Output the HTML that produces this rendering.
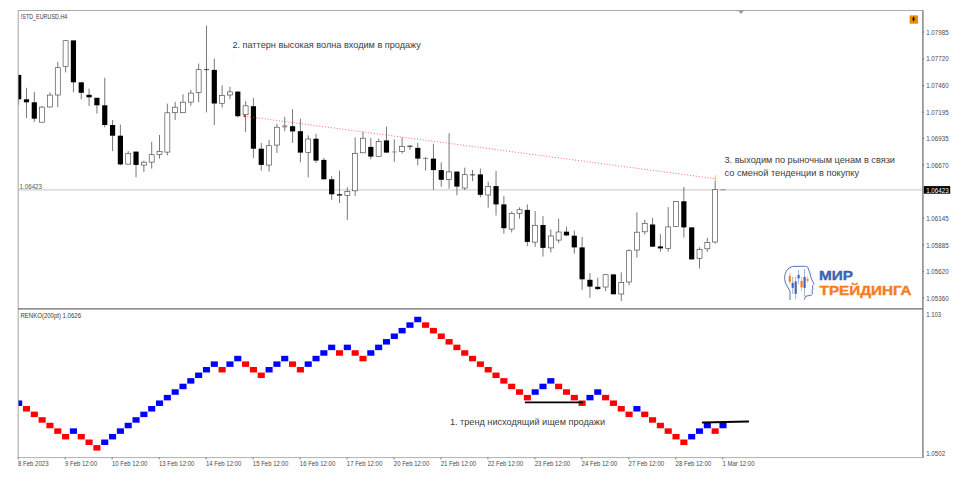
<!DOCTYPE html>
<html><head><meta charset="utf-8"><title>chart</title>
<style>html,body{margin:0;padding:0;background:#fff;font-family:"Liberation Sans",sans-serif;}body{width:962px;height:482px;overflow:hidden}</style>
</head><body>
<svg width="962" height="482" viewBox="0 0 962 482" style="display:block">
<rect width="962" height="482" fill="#fff"/>
<defs><clipPath id="cl"><rect x="18.2" y="10" width="905" height="448"/></clipPath></defs>
<line x1="18" y1="189.8" x2="922.6" y2="189.8" stroke="#dedede" stroke-width="1.7"/>
<g clip-path="url(#cl)">
<line x1="18.65" y1="74.9" x2="18.65" y2="104.8" stroke="#555" stroke-width="0.8"/>
<rect x="16.05" y="74.9" width="5.2" height="24.4" fill="#000"/>
<line x1="26.48" y1="87.8" x2="26.48" y2="118.0" stroke="#555" stroke-width="0.8"/>
<rect x="23.88" y="99.3" width="5.2" height="3.0" fill="#000"/>
<line x1="34.30" y1="91.8" x2="34.30" y2="122.0" stroke="#555" stroke-width="0.8"/>
<rect x="31.70" y="102.3" width="5.2" height="16.4" fill="#000"/>
<line x1="42.13" y1="106.0" x2="42.13" y2="122.5" stroke="#555" stroke-width="0.8"/>
<rect x="39.63" y="107.1" width="5.0" height="15.1" fill="#fff" stroke="#484848" stroke-width="0.65"/>
<line x1="49.95" y1="92.3" x2="49.95" y2="107.3" stroke="#555" stroke-width="0.8"/>
<rect x="47.45" y="95.1" width="5.0" height="11.9" fill="#fff" stroke="#484848" stroke-width="0.65"/>
<line x1="57.78" y1="61.9" x2="57.78" y2="107.3" stroke="#555" stroke-width="0.8"/>
<rect x="55.28" y="67.7" width="5.0" height="27.3" fill="#fff" stroke="#484848" stroke-width="0.65"/>
<line x1="65.61" y1="40.4" x2="65.61" y2="72.4" stroke="#555" stroke-width="0.8"/>
<rect x="63.11" y="40.7" width="5.0" height="25.9" fill="#fff" stroke="#484848" stroke-width="0.65"/>
<line x1="73.43" y1="40.4" x2="73.43" y2="92.3" stroke="#555" stroke-width="0.8"/>
<rect x="70.83" y="40.4" width="5.2" height="41.9" fill="#000"/>
<line x1="81.26" y1="82.3" x2="81.26" y2="99.3" stroke="#555" stroke-width="0.8"/>
<rect x="78.66" y="82.3" width="5.2" height="10.5" fill="#000"/>
<line x1="89.08" y1="88.6" x2="89.08" y2="106.0" stroke="#555" stroke-width="0.8"/>
<rect x="86.48" y="94.8" width="5.2" height="2.5" fill="#000"/>
<line x1="96.91" y1="97.8" x2="96.91" y2="113.6" stroke="#555" stroke-width="0.8"/>
<rect x="94.31" y="97.8" width="5.2" height="7.5" fill="#000"/>
<line x1="104.74" y1="77.8" x2="104.74" y2="127.4" stroke="#555" stroke-width="0.8"/>
<rect x="102.14" y="105.3" width="5.2" height="19.7" fill="#000"/>
<line x1="112.56" y1="120.0" x2="112.56" y2="151.1" stroke="#555" stroke-width="0.8"/>
<rect x="109.96" y="125.0" width="5.2" height="10.7" fill="#000"/>
<line x1="120.39" y1="124.5" x2="120.39" y2="165.4" stroke="#555" stroke-width="0.8"/>
<rect x="117.79" y="135.7" width="5.2" height="28.7" fill="#000"/>
<line x1="128.21" y1="151.1" x2="128.21" y2="164.4" stroke="#555" stroke-width="0.8"/>
<rect x="125.71" y="153.4" width="5.0" height="10.7" fill="#fff" stroke="#484848" stroke-width="0.65"/>
<line x1="136.04" y1="151.6" x2="136.04" y2="177.3" stroke="#555" stroke-width="0.8"/>
<rect x="133.44" y="151.6" width="5.2" height="13.3" fill="#000"/>
<line x1="143.87" y1="160.6" x2="143.87" y2="171.9" stroke="#555" stroke-width="0.8"/>
<rect x="141.37" y="162.2" width="5.0" height="2.9" fill="#fff" stroke="#484848" stroke-width="0.65"/>
<line x1="151.69" y1="141.9" x2="151.69" y2="168.6" stroke="#555" stroke-width="0.8"/>
<rect x="149.19" y="154.7" width="5.0" height="7.4" fill="#fff" stroke="#484848" stroke-width="0.65"/>
<line x1="159.52" y1="134.9" x2="159.52" y2="158.6" stroke="#555" stroke-width="0.8"/>
<rect x="157.02" y="151.4" width="5.0" height="3.2" fill="#fff" stroke="#484848" stroke-width="0.65"/>
<line x1="167.34" y1="103.7" x2="167.34" y2="155.4" stroke="#555" stroke-width="0.8"/>
<rect x="164.84" y="112.8" width="5.0" height="39.3" fill="#fff" stroke="#484848" stroke-width="0.65"/>
<line x1="175.17" y1="101.8" x2="175.17" y2="120.0" stroke="#555" stroke-width="0.8"/>
<rect x="172.67" y="107.2" width="5.0" height="5.5" fill="#fff" stroke="#484848" stroke-width="0.65"/>
<line x1="183.00" y1="94.3" x2="183.00" y2="113.0" stroke="#555" stroke-width="0.8"/>
<rect x="180.50" y="102.2" width="5.0" height="10.5" fill="#fff" stroke="#484848" stroke-width="0.65"/>
<line x1="190.82" y1="89.8" x2="190.82" y2="105.7" stroke="#555" stroke-width="0.8"/>
<rect x="188.32" y="93.1" width="5.0" height="9.0" fill="#fff" stroke="#484848" stroke-width="0.65"/>
<line x1="198.65" y1="63.6" x2="198.65" y2="102.3" stroke="#555" stroke-width="0.8"/>
<rect x="196.15" y="69.7" width="5.0" height="22.8" fill="#fff" stroke="#484848" stroke-width="0.65"/>
<line x1="206.47" y1="25.7" x2="206.47" y2="112.4" stroke="#555" stroke-width="0.8"/>
<rect x="203.87" y="69.3" width="5.2" height="0.8" fill="#222"/>
<line x1="214.30" y1="58.6" x2="214.30" y2="125.0" stroke="#555" stroke-width="0.8"/>
<rect x="211.70" y="69.9" width="5.2" height="33.6" fill="#000"/>
<line x1="222.13" y1="85.3" x2="222.13" y2="107.7" stroke="#555" stroke-width="0.8"/>
<rect x="219.63" y="95.6" width="5.0" height="7.7" fill="#fff" stroke="#484848" stroke-width="0.65"/>
<line x1="229.95" y1="86.8" x2="229.95" y2="99.3" stroke="#555" stroke-width="0.8"/>
<rect x="227.45" y="91.9" width="5.0" height="3.1" fill="#fff" stroke="#484848" stroke-width="0.65"/>
<line x1="237.78" y1="91.6" x2="237.78" y2="117.5" stroke="#555" stroke-width="0.8"/>
<rect x="235.18" y="91.6" width="5.2" height="24.6" fill="#000"/>
<line x1="245.60" y1="101.2" x2="245.60" y2="131.9" stroke="#555" stroke-width="0.8"/>
<rect x="243.10" y="105.8" width="5.0" height="8.9" fill="#fff" stroke="#484848" stroke-width="0.65"/>
<line x1="253.43" y1="98.1" x2="253.43" y2="157.9" stroke="#555" stroke-width="0.8"/>
<rect x="250.83" y="106.2" width="5.2" height="42.5" fill="#000"/>
<line x1="261.26" y1="142.9" x2="261.26" y2="170.6" stroke="#555" stroke-width="0.8"/>
<rect x="258.66" y="148.7" width="5.2" height="16.2" fill="#000"/>
<line x1="269.08" y1="139.9" x2="269.08" y2="171.6" stroke="#555" stroke-width="0.8"/>
<rect x="266.58" y="145.7" width="5.0" height="19.4" fill="#fff" stroke="#484848" stroke-width="0.65"/>
<line x1="276.91" y1="123.7" x2="276.91" y2="152.9" stroke="#555" stroke-width="0.8"/>
<rect x="274.41" y="127.2" width="5.0" height="17.9" fill="#fff" stroke="#484848" stroke-width="0.65"/>
<line x1="284.73" y1="116.7" x2="284.73" y2="131.2" stroke="#555" stroke-width="0.8"/>
<ellipse cx="284.73" cy="126.4" rx="2.6" ry="0.8" fill="#aaa" stroke="#666" stroke-width="0.5"/>
<line x1="292.56" y1="109.2" x2="292.56" y2="142.9" stroke="#555" stroke-width="0.8"/>
<rect x="289.96" y="126.2" width="5.2" height="5.2" fill="#000"/>
<line x1="300.39" y1="118.7" x2="300.39" y2="162.4" stroke="#555" stroke-width="0.8"/>
<rect x="297.79" y="131.2" width="5.2" height="21.4" fill="#000"/>
<line x1="308.21" y1="135.4" x2="308.21" y2="177.3" stroke="#555" stroke-width="0.8"/>
<rect x="305.71" y="139.0" width="5.0" height="13.3" fill="#fff" stroke="#484848" stroke-width="0.65"/>
<line x1="316.04" y1="133.7" x2="316.04" y2="162.9" stroke="#555" stroke-width="0.8"/>
<rect x="313.44" y="138.7" width="5.2" height="21.9" fill="#000"/>
<line x1="323.86" y1="157.9" x2="323.86" y2="179.3" stroke="#555" stroke-width="0.8"/>
<rect x="321.26" y="159.9" width="5.2" height="19.4" fill="#000"/>
<line x1="331.69" y1="176.1" x2="331.69" y2="199.8" stroke="#555" stroke-width="0.8"/>
<rect x="329.09" y="179.3" width="5.2" height="15.0" fill="#000"/>
<line x1="339.52" y1="170.6" x2="339.52" y2="203.0" stroke="#555" stroke-width="0.8"/>
<rect x="336.92" y="194.1" width="5.2" height="1.5" fill="#222"/>
<line x1="347.34" y1="187.3" x2="347.34" y2="219.9" stroke="#555" stroke-width="0.8"/>
<rect x="344.84" y="191.4" width="5.0" height="3.9" fill="#fff" stroke="#484848" stroke-width="0.65"/>
<line x1="355.17" y1="137.4" x2="355.17" y2="196.1" stroke="#555" stroke-width="0.8"/>
<rect x="352.67" y="153.4" width="5.0" height="37.4" fill="#fff" stroke="#484848" stroke-width="0.65"/>
<line x1="362.99" y1="131.9" x2="362.99" y2="153.1" stroke="#555" stroke-width="0.8"/>
<rect x="360.49" y="138.2" width="5.0" height="14.6" fill="#fff" stroke="#484848" stroke-width="0.65"/>
<line x1="370.82" y1="137.9" x2="370.82" y2="159.4" stroke="#555" stroke-width="0.8"/>
<rect x="368.22" y="146.9" width="5.2" height="9.7" fill="#000"/>
<line x1="378.65" y1="138.7" x2="378.65" y2="156.6" stroke="#555" stroke-width="0.8"/>
<rect x="376.15" y="141.5" width="5.0" height="14.8" fill="#fff" stroke="#484848" stroke-width="0.65"/>
<line x1="386.47" y1="126.7" x2="386.47" y2="152.6" stroke="#555" stroke-width="0.8"/>
<rect x="383.87" y="140.4" width="5.2" height="12.2" fill="#000"/>
<line x1="394.30" y1="139.4" x2="394.30" y2="161.9" stroke="#555" stroke-width="0.8"/>
<rect x="391.70" y="151.6" width="5.2" height="0.7" fill="#777"/>
<line x1="402.12" y1="137.4" x2="402.12" y2="153.6" stroke="#555" stroke-width="0.8"/>
<rect x="399.62" y="146.5" width="5.0" height="4.8" fill="#fff" stroke="#484848" stroke-width="0.65"/>
<line x1="409.95" y1="145.5" x2="409.95" y2="149.9" stroke="#555" stroke-width="0.8"/>
<rect x="407.35" y="145.7" width="5.2" height="1.0" fill="#222"/>
<line x1="417.78" y1="142.9" x2="417.78" y2="165.4" stroke="#555" stroke-width="0.8"/>
<rect x="415.18" y="147.9" width="5.2" height="10.7" fill="#000"/>
<line x1="425.60" y1="156.9" x2="425.60" y2="170.6" stroke="#555" stroke-width="0.8"/>
<rect x="423.00" y="158.0" width="5.2" height="0.8" fill="#777"/>
<line x1="433.43" y1="143.7" x2="433.43" y2="189.8" stroke="#555" stroke-width="0.8"/>
<rect x="430.83" y="158.6" width="5.2" height="11.5" fill="#000"/>
<line x1="441.25" y1="162.4" x2="441.25" y2="186.8" stroke="#555" stroke-width="0.8"/>
<rect x="438.65" y="170.1" width="5.2" height="9.7" fill="#000"/>
<line x1="449.08" y1="133.2" x2="449.08" y2="188.6" stroke="#555" stroke-width="0.8"/>
<rect x="446.58" y="171.9" width="5.0" height="7.6" fill="#fff" stroke="#484848" stroke-width="0.65"/>
<line x1="456.91" y1="171.6" x2="456.91" y2="195.3" stroke="#555" stroke-width="0.8"/>
<rect x="454.31" y="171.6" width="5.2" height="15.0" fill="#000"/>
<line x1="464.73" y1="167.6" x2="464.73" y2="190.1" stroke="#555" stroke-width="0.8"/>
<rect x="462.23" y="174.7" width="5.0" height="13.3" fill="#fff" stroke="#484848" stroke-width="0.65"/>
<line x1="472.56" y1="169.9" x2="472.56" y2="181.1" stroke="#555" stroke-width="0.8"/>
<rect x="469.96" y="174.5" width="5.2" height="0.8" fill="#222"/>
<line x1="480.38" y1="168.6" x2="480.38" y2="197.3" stroke="#555" stroke-width="0.8"/>
<rect x="477.78" y="174.4" width="5.2" height="20.4" fill="#000"/>
<line x1="488.21" y1="181.8" x2="488.21" y2="207.8" stroke="#555" stroke-width="0.8"/>
<rect x="485.71" y="186.4" width="5.0" height="8.6" fill="#fff" stroke="#484848" stroke-width="0.65"/>
<line x1="496.04" y1="171.1" x2="496.04" y2="215.5" stroke="#555" stroke-width="0.8"/>
<rect x="493.44" y="186.1" width="5.2" height="18.3" fill="#000"/>
<line x1="503.86" y1="196.1" x2="503.86" y2="233.7" stroke="#555" stroke-width="0.8"/>
<rect x="501.26" y="204.4" width="5.2" height="23.8" fill="#000"/>
<line x1="511.69" y1="211.5" x2="511.69" y2="232.4" stroke="#555" stroke-width="0.8"/>
<rect x="509.19" y="213.3" width="5.0" height="15.8" fill="#fff" stroke="#484848" stroke-width="0.65"/>
<line x1="519.51" y1="207.4" x2="519.51" y2="218.6" stroke="#555" stroke-width="0.8"/>
<rect x="517.01" y="209.7" width="5.0" height="3.6" fill="#fff" stroke="#484848" stroke-width="0.65"/>
<line x1="527.34" y1="204.4" x2="527.34" y2="246.2" stroke="#555" stroke-width="0.8"/>
<rect x="524.74" y="209.9" width="5.2" height="32.0" fill="#000"/>
<line x1="535.17" y1="211.1" x2="535.17" y2="246.9" stroke="#555" stroke-width="0.8"/>
<rect x="532.67" y="225.3" width="5.0" height="16.8" fill="#fff" stroke="#484848" stroke-width="0.65"/>
<line x1="542.99" y1="216.1" x2="542.99" y2="256.6" stroke="#555" stroke-width="0.8"/>
<rect x="540.39" y="225.0" width="5.2" height="22.9" fill="#000"/>
<line x1="550.82" y1="229.4" x2="550.82" y2="252.4" stroke="#555" stroke-width="0.8"/>
<rect x="548.32" y="236.0" width="5.0" height="11.9" fill="#fff" stroke="#484848" stroke-width="0.65"/>
<line x1="558.64" y1="218.6" x2="558.64" y2="242.9" stroke="#555" stroke-width="0.8"/>
<rect x="556.14" y="232.0" width="5.0" height="8.1" fill="#fff" stroke="#484848" stroke-width="0.65"/>
<line x1="566.47" y1="226.7" x2="566.47" y2="236.2" stroke="#555" stroke-width="0.8"/>
<rect x="563.87" y="231.7" width="5.2" height="3.7" fill="#000"/>
<line x1="574.30" y1="230.4" x2="574.30" y2="253.6" stroke="#555" stroke-width="0.8"/>
<rect x="571.70" y="235.7" width="5.2" height="11.7" fill="#000"/>
<line x1="582.12" y1="236.9" x2="582.12" y2="289.8" stroke="#555" stroke-width="0.8"/>
<rect x="579.52" y="247.4" width="5.2" height="31.9" fill="#000"/>
<line x1="589.95" y1="273.1" x2="589.95" y2="297.8" stroke="#555" stroke-width="0.8"/>
<rect x="587.35" y="279.8" width="5.2" height="6.8" fill="#000"/>
<line x1="597.77" y1="277.8" x2="597.77" y2="289.8" stroke="#555" stroke-width="0.8"/>
<rect x="595.17" y="286.8" width="5.2" height="2.3" fill="#000"/>
<line x1="605.60" y1="274.4" x2="605.60" y2="291.1" stroke="#555" stroke-width="0.8"/>
<rect x="603.10" y="274.7" width="5.0" height="12.3" fill="#fff" stroke="#484848" stroke-width="0.65"/>
<line x1="613.43" y1="274.4" x2="613.43" y2="294.3" stroke="#555" stroke-width="0.8"/>
<rect x="610.83" y="274.4" width="5.2" height="19.9" fill="#000"/>
<line x1="621.25" y1="272.4" x2="621.25" y2="301.0" stroke="#555" stroke-width="0.8"/>
<rect x="618.75" y="282.6" width="5.0" height="11.4" fill="#fff" stroke="#484848" stroke-width="0.65"/>
<line x1="629.08" y1="249.4" x2="629.08" y2="285.3" stroke="#555" stroke-width="0.8"/>
<rect x="626.58" y="250.7" width="5.0" height="31.3" fill="#fff" stroke="#484848" stroke-width="0.65"/>
<line x1="636.90" y1="212.4" x2="636.90" y2="257.6" stroke="#555" stroke-width="0.8"/>
<rect x="634.40" y="232.2" width="5.0" height="17.9" fill="#fff" stroke="#484848" stroke-width="0.65"/>
<line x1="644.73" y1="219.7" x2="644.73" y2="234.6" stroke="#555" stroke-width="0.8"/>
<rect x="642.23" y="223.3" width="5.0" height="8.5" fill="#fff" stroke="#484848" stroke-width="0.65"/>
<line x1="652.56" y1="218.0" x2="652.56" y2="246.7" stroke="#555" stroke-width="0.8"/>
<rect x="649.96" y="224.5" width="5.2" height="22.2" fill="#000"/>
<line x1="660.38" y1="234.2" x2="660.38" y2="251.8" stroke="#555" stroke-width="0.8"/>
<rect x="657.78" y="246.4" width="5.2" height="2.0" fill="#000"/>
<line x1="668.21" y1="207.2" x2="668.21" y2="251.6" stroke="#555" stroke-width="0.8"/>
<rect x="665.71" y="226.9" width="5.0" height="21.4" fill="#fff" stroke="#484848" stroke-width="0.65"/>
<line x1="676.03" y1="201.2" x2="676.03" y2="226.9" stroke="#555" stroke-width="0.8"/>
<rect x="673.53" y="201.5" width="5.0" height="25.1" fill="#fff" stroke="#484848" stroke-width="0.65"/>
<line x1="683.86" y1="187.0" x2="683.86" y2="237.6" stroke="#555" stroke-width="0.8"/>
<rect x="681.26" y="201.3" width="5.2" height="26.1" fill="#000"/>
<line x1="691.69" y1="227.4" x2="691.69" y2="259.4" stroke="#555" stroke-width="0.8"/>
<rect x="689.09" y="227.4" width="5.2" height="32.0" fill="#000"/>
<line x1="699.51" y1="247.3" x2="699.51" y2="268.5" stroke="#555" stroke-width="0.8"/>
<rect x="697.01" y="249.4" width="5.0" height="8.9" fill="#fff" stroke="#484848" stroke-width="0.65"/>
<line x1="707.34" y1="237.8" x2="707.34" y2="251.8" stroke="#555" stroke-width="0.8"/>
<rect x="704.84" y="242.6" width="5.0" height="6.2" fill="#fff" stroke="#484848" stroke-width="0.65"/>
<line x1="715.16" y1="181.0" x2="715.16" y2="243.6" stroke="#555" stroke-width="0.8"/>
<rect x="712.66" y="189.7" width="5.0" height="52.3" fill="#fff" stroke="#484848" stroke-width="0.65"/>
</g>
<line x1="244.5" y1="116.2" x2="716" y2="178.8" stroke="#ff4848" stroke-opacity="0.8" stroke-width="1" stroke-dasharray="1 1.9"/>
<circle cx="244.6" cy="116.2" r="1.1" fill="#f00"/>
<line x1="715.4" y1="175.3" x2="715.4" y2="181.2" stroke="#bdbdbd" stroke-width="0.9"/>
<circle cx="715.4" cy="178.7" r="1" fill="#f7e600"/>
<line x1="720.5" y1="189.8" x2="725.6" y2="189.8" stroke="#8a8a8a" stroke-width="1"/>
<g clip-path="url(#cl)" shape-rendering="auto">
<rect x="15.10" y="400.46" width="7.1" height="5.48" fill="#0000fe"/>
<rect x="22.93" y="406.04" width="7.1" height="5.48" fill="#fe0000"/>
<rect x="30.75" y="411.62" width="7.1" height="5.48" fill="#fe0000"/>
<rect x="38.58" y="417.20" width="7.1" height="5.48" fill="#fe0000"/>
<rect x="46.40" y="422.78" width="7.1" height="5.48" fill="#fe0000"/>
<rect x="54.23" y="428.36" width="7.1" height="5.48" fill="#fe0000"/>
<rect x="62.06" y="433.94" width="7.1" height="5.48" fill="#fe0000"/>
<rect x="69.88" y="428.36" width="7.1" height="5.48" fill="#0000fe"/>
<rect x="77.71" y="433.94" width="7.1" height="5.48" fill="#fe0000"/>
<rect x="85.53" y="439.52" width="7.1" height="5.48" fill="#fe0000"/>
<rect x="93.36" y="445.10" width="7.1" height="5.48" fill="#fe0000"/>
<rect x="101.19" y="439.52" width="7.1" height="5.48" fill="#0000fe"/>
<rect x="109.01" y="433.94" width="7.1" height="5.48" fill="#0000fe"/>
<rect x="116.84" y="428.36" width="7.1" height="5.48" fill="#0000fe"/>
<rect x="124.66" y="422.78" width="7.1" height="5.48" fill="#0000fe"/>
<rect x="132.49" y="417.20" width="7.1" height="5.48" fill="#0000fe"/>
<rect x="140.32" y="411.62" width="7.1" height="5.48" fill="#0000fe"/>
<rect x="148.14" y="406.04" width="7.1" height="5.48" fill="#0000fe"/>
<rect x="155.97" y="400.46" width="7.1" height="5.48" fill="#0000fe"/>
<rect x="163.79" y="394.88" width="7.1" height="5.48" fill="#0000fe"/>
<rect x="171.62" y="389.30" width="7.1" height="5.48" fill="#0000fe"/>
<rect x="179.45" y="383.72" width="7.1" height="5.48" fill="#0000fe"/>
<rect x="187.27" y="378.14" width="7.1" height="5.48" fill="#0000fe"/>
<rect x="195.10" y="372.56" width="7.1" height="5.48" fill="#0000fe"/>
<rect x="202.92" y="366.98" width="7.1" height="5.48" fill="#0000fe"/>
<rect x="210.75" y="361.40" width="7.1" height="5.48" fill="#0000fe"/>
<rect x="218.58" y="366.98" width="7.1" height="5.48" fill="#fe0000"/>
<rect x="226.40" y="361.40" width="7.1" height="5.48" fill="#0000fe"/>
<rect x="234.23" y="355.82" width="7.1" height="5.48" fill="#0000fe"/>
<rect x="242.05" y="361.40" width="7.1" height="5.48" fill="#fe0000"/>
<rect x="249.88" y="366.98" width="7.1" height="5.48" fill="#fe0000"/>
<rect x="257.71" y="372.56" width="7.1" height="5.48" fill="#fe0000"/>
<rect x="265.53" y="366.98" width="7.1" height="5.48" fill="#0000fe"/>
<rect x="273.36" y="361.40" width="7.1" height="5.48" fill="#0000fe"/>
<rect x="281.18" y="355.82" width="7.1" height="5.48" fill="#0000fe"/>
<rect x="289.01" y="361.40" width="7.1" height="5.48" fill="#fe0000"/>
<rect x="296.84" y="366.98" width="7.1" height="5.48" fill="#fe0000"/>
<rect x="304.66" y="361.40" width="7.1" height="5.48" fill="#0000fe"/>
<rect x="312.49" y="355.82" width="7.1" height="5.48" fill="#0000fe"/>
<rect x="320.31" y="350.24" width="7.1" height="5.48" fill="#0000fe"/>
<rect x="328.14" y="344.66" width="7.1" height="5.48" fill="#0000fe"/>
<rect x="335.97" y="350.24" width="7.1" height="5.48" fill="#fe0000"/>
<rect x="343.79" y="344.66" width="7.1" height="5.48" fill="#0000fe"/>
<rect x="351.62" y="350.24" width="7.1" height="5.48" fill="#fe0000"/>
<rect x="359.44" y="355.82" width="7.1" height="5.48" fill="#fe0000"/>
<rect x="367.27" y="350.24" width="7.1" height="5.48" fill="#0000fe"/>
<rect x="375.10" y="344.66" width="7.1" height="5.48" fill="#0000fe"/>
<rect x="382.92" y="339.08" width="7.1" height="5.48" fill="#0000fe"/>
<rect x="390.75" y="333.50" width="7.1" height="5.48" fill="#0000fe"/>
<rect x="398.57" y="327.92" width="7.1" height="5.48" fill="#0000fe"/>
<rect x="406.40" y="322.34" width="7.1" height="5.48" fill="#0000fe"/>
<rect x="414.23" y="316.76" width="7.1" height="5.48" fill="#0000fe"/>
<rect x="422.05" y="322.34" width="7.1" height="5.48" fill="#fe0000"/>
<rect x="429.88" y="327.92" width="7.1" height="5.48" fill="#fe0000"/>
<rect x="437.70" y="333.50" width="7.1" height="5.48" fill="#fe0000"/>
<rect x="445.53" y="339.08" width="7.1" height="5.48" fill="#fe0000"/>
<rect x="453.36" y="344.66" width="7.1" height="5.48" fill="#fe0000"/>
<rect x="461.18" y="350.24" width="7.1" height="5.48" fill="#fe0000"/>
<rect x="469.01" y="355.82" width="7.1" height="5.48" fill="#fe0000"/>
<rect x="476.83" y="361.40" width="7.1" height="5.48" fill="#fe0000"/>
<rect x="484.66" y="366.98" width="7.1" height="5.48" fill="#fe0000"/>
<rect x="492.49" y="372.56" width="7.1" height="5.48" fill="#fe0000"/>
<rect x="500.31" y="378.14" width="7.1" height="5.48" fill="#fe0000"/>
<rect x="508.14" y="383.72" width="7.1" height="5.48" fill="#fe0000"/>
<rect x="515.96" y="389.30" width="7.1" height="5.48" fill="#fe0000"/>
<rect x="523.79" y="394.88" width="7.1" height="5.48" fill="#fe0000"/>
<rect x="531.62" y="389.30" width="7.1" height="5.48" fill="#0000fe"/>
<rect x="539.44" y="383.72" width="7.1" height="5.48" fill="#0000fe"/>
<rect x="547.27" y="378.14" width="7.1" height="5.48" fill="#0000fe"/>
<rect x="555.09" y="383.72" width="7.1" height="5.48" fill="#fe0000"/>
<rect x="562.92" y="389.30" width="7.1" height="5.48" fill="#fe0000"/>
<rect x="570.75" y="394.88" width="7.1" height="5.48" fill="#fe0000"/>
<rect x="578.57" y="400.46" width="7.1" height="5.48" fill="#fe0000"/>
<rect x="586.40" y="394.88" width="7.1" height="5.48" fill="#0000fe"/>
<rect x="594.22" y="389.30" width="7.1" height="5.48" fill="#0000fe"/>
<rect x="602.05" y="394.88" width="7.1" height="5.48" fill="#fe0000"/>
<rect x="609.88" y="400.46" width="7.1" height="5.48" fill="#fe0000"/>
<rect x="617.70" y="406.04" width="7.1" height="5.48" fill="#fe0000"/>
<rect x="625.53" y="411.62" width="7.1" height="5.48" fill="#fe0000"/>
<rect x="633.35" y="406.04" width="7.1" height="5.48" fill="#0000fe"/>
<rect x="641.18" y="411.62" width="7.1" height="5.48" fill="#fe0000"/>
<rect x="649.01" y="417.20" width="7.1" height="5.48" fill="#fe0000"/>
<rect x="656.83" y="422.78" width="7.1" height="5.48" fill="#fe0000"/>
<rect x="664.66" y="428.36" width="7.1" height="5.48" fill="#fe0000"/>
<rect x="672.48" y="433.94" width="7.1" height="5.48" fill="#fe0000"/>
<rect x="680.31" y="439.52" width="7.1" height="5.48" fill="#fe0000"/>
<rect x="688.14" y="433.94" width="7.1" height="5.48" fill="#0000fe"/>
<rect x="695.96" y="428.36" width="7.1" height="5.48" fill="#0000fe"/>
<rect x="703.79" y="422.78" width="7.1" height="5.48" fill="#0000fe"/>
<rect x="711.61" y="428.36" width="7.1" height="5.48" fill="#fe0000"/>
<rect x="719.44" y="422.78" width="7.1" height="5.48" fill="#0000fe"/>
</g>
<line x1="524.9" y1="402.4" x2="583" y2="402.4" stroke="#000" stroke-width="1.8"/>
<line x1="702.8" y1="422.5" x2="748.2" y2="421.5" stroke="#000" stroke-width="2" stroke-linecap="round"/>
<line x1="18.2" y1="10.2" x2="18.2" y2="458" stroke="#8e8e8e" stroke-width="0.8"/>
<line x1="18" y1="10.5" x2="923" y2="10.5" stroke="#a2a2a2" stroke-width="0.9"/>
<line x1="922.9" y1="10.2" x2="922.9" y2="458" stroke="#858585" stroke-width="1.5"/>
<line x1="18" y1="308.8" x2="923" y2="308.8" stroke="#6a6a6a" stroke-width="1.3"/>
<line x1="18" y1="457.6" x2="923" y2="457.6" stroke="#b0b0b0" stroke-width="1"/>
<path d="M738 10.6 L744 10.6 L741 13.9 Z" fill="#9a9a9a"/>
<rect x="909.6" y="15.4" width="8.4" height="8.3" fill="#f08a00"/>
<path d="M913.55 16.8 V21.3" stroke="#1a1000" stroke-width="1.3" fill="none"/><path d="M911.9 19.05 H915.2" stroke="#2a1a00" stroke-width="0.9" fill="none"/>
<line x1="922.6" y1="32" x2="924.2" y2="32" stroke="#666" stroke-width="0.8"/>
<text x="926.2" y="34.6" font-family="Liberation Sans, sans-serif" font-size="7" fill="#4a4a4a" textLength="22.4" lengthAdjust="spacingAndGlyphs">1.07985</text>
<line x1="922.6" y1="58.8" x2="924.2" y2="58.8" stroke="#666" stroke-width="0.8"/>
<text x="926.2" y="61.4" font-family="Liberation Sans, sans-serif" font-size="7" fill="#4a4a4a" textLength="22.4" lengthAdjust="spacingAndGlyphs">1.07720</text>
<line x1="922.6" y1="85.6" x2="924.2" y2="85.6" stroke="#666" stroke-width="0.8"/>
<text x="926.2" y="88.19999999999999" font-family="Liberation Sans, sans-serif" font-size="7" fill="#4a4a4a" textLength="22.4" lengthAdjust="spacingAndGlyphs">1.07460</text>
<line x1="922.6" y1="112.1" x2="924.2" y2="112.1" stroke="#666" stroke-width="0.8"/>
<text x="926.2" y="114.69999999999999" font-family="Liberation Sans, sans-serif" font-size="7" fill="#4a4a4a" textLength="22.4" lengthAdjust="spacingAndGlyphs">1.07195</text>
<line x1="922.6" y1="138.4" x2="924.2" y2="138.4" stroke="#666" stroke-width="0.8"/>
<text x="926.2" y="141.0" font-family="Liberation Sans, sans-serif" font-size="7" fill="#4a4a4a" textLength="22.4" lengthAdjust="spacingAndGlyphs">1.06935</text>
<line x1="922.6" y1="165" x2="924.2" y2="165" stroke="#666" stroke-width="0.8"/>
<text x="926.2" y="167.6" font-family="Liberation Sans, sans-serif" font-size="7" fill="#4a4a4a" textLength="22.4" lengthAdjust="spacingAndGlyphs">1.06670</text>
<line x1="922.6" y1="218.2" x2="924.2" y2="218.2" stroke="#666" stroke-width="0.8"/>
<text x="926.2" y="220.79999999999998" font-family="Liberation Sans, sans-serif" font-size="7" fill="#4a4a4a" textLength="22.4" lengthAdjust="spacingAndGlyphs">1.06145</text>
<line x1="922.6" y1="245" x2="924.2" y2="245" stroke="#666" stroke-width="0.8"/>
<text x="926.2" y="247.6" font-family="Liberation Sans, sans-serif" font-size="7" fill="#4a4a4a" textLength="22.4" lengthAdjust="spacingAndGlyphs">1.05885</text>
<line x1="922.6" y1="271.6" x2="924.2" y2="271.6" stroke="#666" stroke-width="0.8"/>
<text x="926.2" y="274.20000000000005" font-family="Liberation Sans, sans-serif" font-size="7" fill="#4a4a4a" textLength="22.4" lengthAdjust="spacingAndGlyphs">1.05620</text>
<line x1="922.6" y1="298.1" x2="924.2" y2="298.1" stroke="#666" stroke-width="0.8"/>
<text x="926.2" y="300.70000000000005" font-family="Liberation Sans, sans-serif" font-size="7" fill="#4a4a4a" textLength="22.4" lengthAdjust="spacingAndGlyphs">1.05360</text>
<rect x="923.8" y="186.1" width="26.4" height="7.6" fill="#000"/>
<text x="926.2" y="192.8" font-family="Liberation Sans, sans-serif" font-size="7" fill="#fff" textLength="22.4" lengthAdjust="spacingAndGlyphs">1.06423</text>
<text x="926.2" y="316.9" font-family="Liberation Sans, sans-serif" font-size="7" fill="#4a4a4a" textLength="15" lengthAdjust="spacingAndGlyphs">1.103</text>
<text x="926.2" y="455.7" font-family="Liberation Sans, sans-serif" font-size="7" fill="#4a4a4a" textLength="19" lengthAdjust="spacingAndGlyphs">1.0502</text>
<text x="20.8" y="18.5" font-family="Liberation Sans, sans-serif" font-size="7" fill="#3a3a3a" textLength="46.5" lengthAdjust="spacingAndGlyphs">!STD_EURUSD,H4</text>
<text x="19.6" y="188.7" font-family="Liberation Sans, sans-serif" font-size="7" fill="#555" textLength="22.4" lengthAdjust="spacingAndGlyphs">1.06423</text>
<text x="20.5" y="318.3" font-family="Liberation Sans, sans-serif" font-size="7" fill="#3a3a3a" textLength="60.5" lengthAdjust="spacingAndGlyphs">RENKO(200pt) 1.0626</text>
<line x1="18.2" y1="457.6" x2="18.2" y2="459.4" stroke="#666" stroke-width="0.9"/>
<text x="18.0" y="466.3" font-family="Liberation Sans, sans-serif" font-size="7" fill="#4a4a4a" textLength="30.5" lengthAdjust="spacingAndGlyphs">8 Feb 2023</text>
<line x1="65.2" y1="457.6" x2="65.2" y2="459.4" stroke="#666" stroke-width="0.9"/>
<text x="65.0" y="466.3" font-family="Liberation Sans, sans-serif" font-size="7" fill="#4a4a4a" textLength="32" lengthAdjust="spacingAndGlyphs">9 Feb 12:00</text>
<line x1="112.1" y1="457.6" x2="112.1" y2="459.4" stroke="#666" stroke-width="0.9"/>
<text x="111.9" y="466.3" font-family="Liberation Sans, sans-serif" font-size="7" fill="#4a4a4a" textLength="35.5" lengthAdjust="spacingAndGlyphs">10 Feb 12:00</text>
<line x1="159.1" y1="457.6" x2="159.1" y2="459.4" stroke="#666" stroke-width="0.9"/>
<text x="158.9" y="466.3" font-family="Liberation Sans, sans-serif" font-size="7" fill="#4a4a4a" textLength="35.5" lengthAdjust="spacingAndGlyphs">13 Feb 12:00</text>
<line x1="206.1" y1="457.6" x2="206.1" y2="459.4" stroke="#666" stroke-width="0.9"/>
<text x="205.9" y="466.3" font-family="Liberation Sans, sans-serif" font-size="7" fill="#4a4a4a" textLength="35.5" lengthAdjust="spacingAndGlyphs">14 Feb 12:00</text>
<line x1="253.0" y1="457.6" x2="253.0" y2="459.4" stroke="#666" stroke-width="0.9"/>
<text x="252.8" y="466.3" font-family="Liberation Sans, sans-serif" font-size="7" fill="#4a4a4a" textLength="35.5" lengthAdjust="spacingAndGlyphs">15 Feb 12:00</text>
<line x1="300.0" y1="457.6" x2="300.0" y2="459.4" stroke="#666" stroke-width="0.9"/>
<text x="299.8" y="466.3" font-family="Liberation Sans, sans-serif" font-size="7" fill="#4a4a4a" textLength="35.5" lengthAdjust="spacingAndGlyphs">16 Feb 12:00</text>
<line x1="347.0" y1="457.6" x2="347.0" y2="459.4" stroke="#666" stroke-width="0.9"/>
<text x="346.8" y="466.3" font-family="Liberation Sans, sans-serif" font-size="7" fill="#4a4a4a" textLength="35.5" lengthAdjust="spacingAndGlyphs">17 Feb 12:00</text>
<line x1="394.0" y1="457.6" x2="394.0" y2="459.4" stroke="#666" stroke-width="0.9"/>
<text x="393.8" y="466.3" font-family="Liberation Sans, sans-serif" font-size="7" fill="#4a4a4a" textLength="35.5" lengthAdjust="spacingAndGlyphs">20 Feb 12:00</text>
<line x1="440.9" y1="457.6" x2="440.9" y2="459.4" stroke="#666" stroke-width="0.9"/>
<text x="440.7" y="466.3" font-family="Liberation Sans, sans-serif" font-size="7" fill="#4a4a4a" textLength="35.5" lengthAdjust="spacingAndGlyphs">21 Feb 12:00</text>
<line x1="487.9" y1="457.6" x2="487.9" y2="459.4" stroke="#666" stroke-width="0.9"/>
<text x="487.7" y="466.3" font-family="Liberation Sans, sans-serif" font-size="7" fill="#4a4a4a" textLength="35.5" lengthAdjust="spacingAndGlyphs">22 Feb 12:00</text>
<line x1="534.9" y1="457.6" x2="534.9" y2="459.4" stroke="#666" stroke-width="0.9"/>
<text x="534.7" y="466.3" font-family="Liberation Sans, sans-serif" font-size="7" fill="#4a4a4a" textLength="35.5" lengthAdjust="spacingAndGlyphs">23 Feb 12:00</text>
<line x1="581.8" y1="457.6" x2="581.8" y2="459.4" stroke="#666" stroke-width="0.9"/>
<text x="581.6" y="466.3" font-family="Liberation Sans, sans-serif" font-size="7" fill="#4a4a4a" textLength="35.5" lengthAdjust="spacingAndGlyphs">24 Feb 12:00</text>
<line x1="628.8" y1="457.6" x2="628.8" y2="459.4" stroke="#666" stroke-width="0.9"/>
<text x="628.6" y="466.3" font-family="Liberation Sans, sans-serif" font-size="7" fill="#4a4a4a" textLength="35.5" lengthAdjust="spacingAndGlyphs">27 Feb 12:00</text>
<line x1="675.8" y1="457.6" x2="675.8" y2="459.4" stroke="#666" stroke-width="0.9"/>
<text x="675.6" y="466.3" font-family="Liberation Sans, sans-serif" font-size="7" fill="#4a4a4a" textLength="35.5" lengthAdjust="spacingAndGlyphs">28 Feb 12:00</text>
<line x1="722.8" y1="457.6" x2="722.8" y2="459.4" stroke="#666" stroke-width="0.9"/>
<text x="722.5" y="466.3" font-family="Liberation Sans, sans-serif" font-size="7" fill="#4a4a4a" textLength="32" lengthAdjust="spacingAndGlyphs">1 Mar 12:00</text>
<text x="232.4" y="47.9" font-family="Liberation Sans, sans-serif" font-size="9.2" fill="#3c3c3c" textLength="188.5" lengthAdjust="spacingAndGlyphs">2. паттерн высокая волна входим в продажу</text>
<text x="724.5" y="163.3" font-family="Liberation Sans, sans-serif" font-size="9.2" fill="#3c3c3c" textLength="170.5" lengthAdjust="spacingAndGlyphs">3. выходим по рыночным ценам в связи</text>
<text x="724.5" y="176.2" font-family="Liberation Sans, sans-serif" font-size="9.2" fill="#3c3c3c" textLength="134.5" lengthAdjust="spacingAndGlyphs">со сменой тенденции в покупку</text>
<text x="449.9" y="424.7" font-family="Liberation Sans, sans-serif" font-size="9.2" fill="#3c3c3c" textLength="155.2" lengthAdjust="spacingAndGlyphs">1. тренд нисходящий ищем продажи</text>
<circle cx="233.2" cy="53.6" r="0.45" fill="#b5b5b5"/><circle cx="232.6" cy="60" r="0.4" fill="#c5c5c5"/>
<g fill="none" stroke="#4163b1" stroke-width="0.9" stroke-linecap="round" stroke-linejoin="round">
<path d="M790 299.6 V291.4 C788.8 288 786.2 285.6 785.2 281.9 C784.3 278.6 784.4 274.4 786.3 271.2 C788.2 267.8 791.4 266.4 795 266.3 H802.9 C805 266.3 806.9 266.5 807.9 267.5 C808.6 269.4 809.2 271.2 809.9 273 C810.4 275 810.8 277 811.4 278.9 L813.9 283.6 C814 284.6 813.2 285.2 812.4 285.9 L812.9 288.9 L812 290.8 L812.5 293.6 C812.2 294.8 811.2 295.3 809.9 295.4 L805.6 296.3 L804.5 299.3"/>
</g>
<g stroke-linecap="butt">
<line x1="789.75" y1="272.9" x2="789.75" y2="284.4" stroke="#f58a3c" stroke-width="0.6"/>
<rect x="788.7" y="275.9" width="2.1" height="6" fill="#f47b20"/>
<line x1="792.7" y1="276.9" x2="792.7" y2="293.9" stroke="#5b78bd" stroke-width="0.6"/>
<rect x="791.6" y="282.9" width="2.2" height="5" fill="#4466b3"/>
<line x1="795.7" y1="276.9" x2="795.7" y2="299.3" stroke="#5b78bd" stroke-width="0.6"/>
<rect x="794.6" y="281.4" width="2.2" height="12.5" fill="#4466b3"/>
<line x1="798.6" y1="270" x2="798.6" y2="283.9" stroke="#5b78bd" stroke-width="0.6"/>
<rect x="797.5" y="274.9" width="2.2" height="3.5" fill="#4466b3"/>
<line x1="801.6" y1="276.9" x2="801.6" y2="291.4" stroke="#f58a3c" stroke-width="0.6"/>
<rect x="800.5" y="280.9" width="2.2" height="6.5" fill="#f47b20"/>
<line x1="804.6" y1="269" x2="804.6" y2="296.3" stroke="#5b78bd" stroke-width="0.6"/>
<rect x="803.5" y="276.9" width="2.2" height="11" fill="#4466b3"/>
<line x1="807.6" y1="276.4" x2="807.6" y2="282.9" stroke="#f58a3c" stroke-width="0.6"/>
<rect x="806.6" y="278.9" width="2" height="1.8" fill="#f47b20"/>
</g>
<text x="819.1" y="279.7" font-family="Liberation Sans, sans-serif" font-weight="bold" font-size="12.4" fill="#3f62b0" stroke="#3f62b0" stroke-width="0.35" textLength="34" lengthAdjust="spacingAndGlyphs">МИР</text>
<text x="819.6" y="295.2" font-family="Liberation Sans, sans-serif" font-weight="bold" font-size="12.6" fill="#f57c20" stroke="#f57c20" stroke-width="0.35" textLength="92" lengthAdjust="spacingAndGlyphs">ТРЕЙДИНГА</text>

</svg>
</body></html>
